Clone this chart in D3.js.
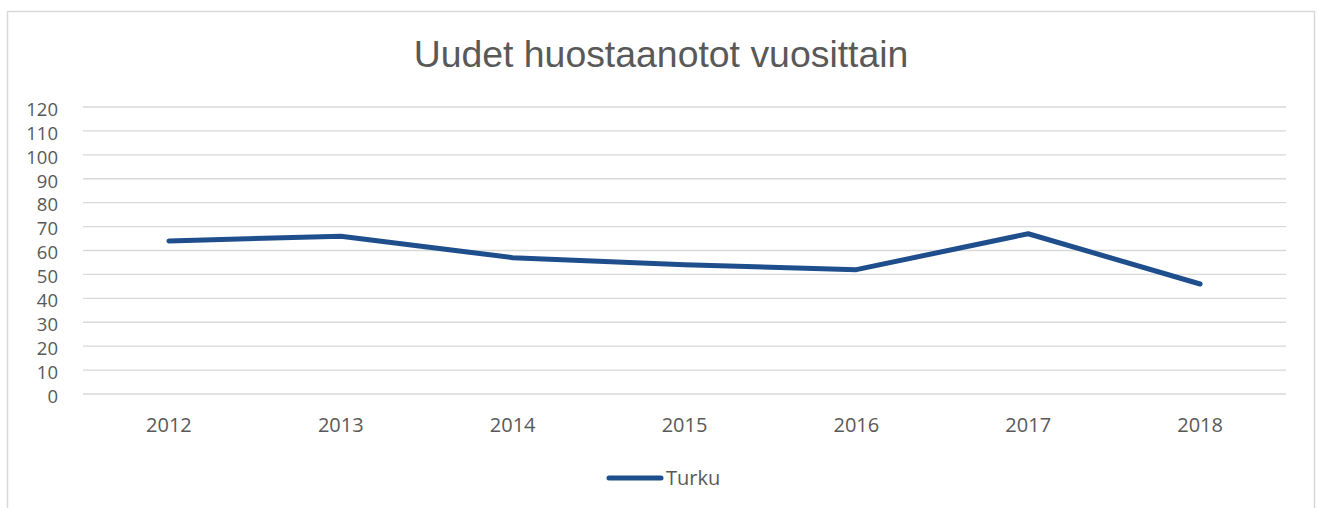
<!DOCTYPE html>
<html><head><meta charset="utf-8">
<script src="https://cdn.jsdelivr.net/npm/d3@7"></script>
<style>body{margin:0;background:#fff;}svg{display:block;font-family:"Open Sans",sans-serif;}</style>
</head><body><svg id="c" width="1318" height="508"></svg>
<script>
const years = ["2012","2013","2014","2015","2016","2017","2018"];
const turku = [64, 66, 57, 54, 52, 67, 46];
const yTicks = [0,10,20,30,40,50,60,70,80,90,100,110,120];
const title = "Uudet huostaanotot vuosittain";
const seriesName = "Turku";

const svg = d3.select("#c");
const W = 1318, H = 508;
const m = {left: 83, right: 32};
svg.append("rect").attr("x",7.5).attr("y",11.5).attr("width",1307).attr("height",510)
  .attr("fill","#fff").attr("stroke","#d9d9d9").attr("stroke-width",1.5);

const x = d3.scaleBand().domain(years).range([m.left, W - m.right]);
const y = d3.scaleLinear().domain([0,120]).range([394, 107]);

const grid = svg.append("g");
grid.selectAll("line").data(yTicks).join("line")
  .attr("x1", m.left).attr("x2", W - m.right)
  .attr("y1", d => y(d)).attr("y2", d => y(d))
  .attr("stroke","#d9d9d9").attr("stroke-width",1.3);

const yAxis = svg.append("g").attr("transform","translate(58,0)")
  .call(d3.axisLeft(y).tickValues(yTicks).tickSize(0).tickPadding(0));
yAxis.select(".domain").remove();
yAxis.selectAll("text").attr("fill","#595959").style("font-size","18.5px")
  .style("font-family","'Open Sans',sans-serif").attr("dy","0.45em");

const xAxis = svg.append("g").attr("transform","translate(0,432)")
  .call(d3.axisBottom(x).tickSize(0).tickPadding(0));
xAxis.select(".domain").remove();
xAxis.selectAll("text").attr("fill","#595959").style("font-size","20px")
  .style("font-family","'Open Sans',sans-serif").attr("y",0).attr("dy","0");

const line = d3.line().x((d,i) => x(years[i]) + x.bandwidth()/2).y(d => y(d));
svg.append("path").datum(turku).attr("d", line)
  .attr("fill","none").attr("stroke","#1f4e8c").attr("stroke-width",5)
  .attr("stroke-linecap","round").attr("stroke-linejoin","round");

svg.append("text").attr("x", 661).attr("y", 67).attr("text-anchor","middle")
  .attr("fill","#595959").style("font-family","'Liberation Sans',Arial,sans-serif")
  .style("font-size","37.4px").text(title);

svg.append("line").attr("x1",609).attr("x2",661).attr("y1",478).attr("y2",478)
  .attr("stroke","#1f4e8c").attr("stroke-width",5).attr("stroke-linecap","round");
svg.append("text").attr("x",666).attr("y",485).attr("fill","#595959")
  .style("font-size","20px").text(seriesName);
</script></body></html>
